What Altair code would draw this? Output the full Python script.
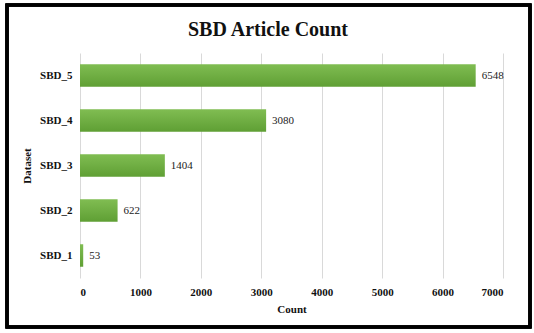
import altair as alt
import pandas as pd

datasets = ["SBD_1", "SBD_2", "SBD_3", "SBD_4", "SBD_5"]
counts = [53, 622, 1404, 3080, 6548]
title_text = ["SBD Article Count"]

df = pd.DataFrame({"Dataset": datasets, "Count": counts})
order = list(reversed(datasets))

FONT = "Liberation Serif"

y_enc = alt.Y("Dataset:N", sort=order,
              scale=alt.Scale(paddingInner=0.5, paddingOuter=0.25),
              axis=alt.Axis(title="Dataset", labelFontWeight="bold", labelFontSize=11,
                            labelFont=FONT, labelColor="#111", labelPadding=8,
                            titleFont=FONT, titleFontSize=11, titleFontWeight="bold",
                            titleColor="#111", titlePadding=7, ticks=False, domain=False))
x_enc = alt.X("Count:Q", scale=alt.Scale(domain=[0, 7000], nice=False),
              axis=alt.Axis(title="Count", values=[0, 1000, 2000, 3000, 4000, 5000, 6000, 7000],
                            format="d", labelFontWeight="bold", labelFontSize=11,
                            labelFont=FONT, labelColor="#111", labelPadding=8,
                            titleFont=FONT, titleFontSize=11, titleFontWeight="bold",
                            titleColor="#111", titlePadding=6, ticks=False, domain=False,
                            grid=True, gridColor="#d9d9d9", gridWidth=1))

bars = alt.Chart(df).mark_bar(
    color=alt.Gradient(gradient="linear", x1=0, y1=0, x2=0, y2=1,
                       stops=[alt.GradientStop(color="#80bd52", offset=0),
                              alt.GradientStop(color="#5f9f34", offset=1)])
).encode(x=x_enc, y=y_enc)

labels = alt.Chart(df).mark_text(align="left", baseline="middle", dx=6, font=FONT,
                                 fontSize=11, color="#222").encode(
    x="Count:Q", y=alt.Y("Dataset:N", sort=order), text="Count:Q")

title = alt.Chart(pd.DataFrame({"t": title_text})).mark_text(
    font=FONT, fontSize=20, fontWeight="bold", color="#111",
    align="center", baseline="middle").encode(
    x=alt.value(188), y=alt.value(-23), text="t:N")

frame = alt.Chart(df).mark_rect(filled=False, stroke="black", strokeWidth=3).encode(
    x=alt.value(-73), x2=alt.value(450), y=alt.value(-48), y2=alt.value(274))

chart = alt.layer(bars, labels, title, frame).properties(
    width=423, height=225,
    autosize=alt.AutoSizeParams(type="none"),
    padding={"left": 80, "top": 53, "right": 31, "bottom": 55},
    background="white",
).configure_view(stroke=None)

chart.save("out.html", embed_options={"renderer": "svg", "actions": False})
